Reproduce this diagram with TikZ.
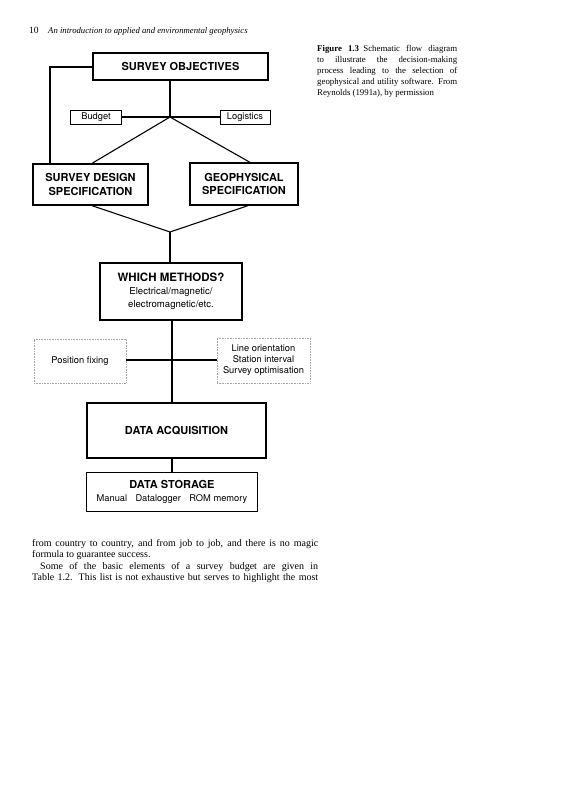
\documentclass[tikz,border=0pt]{standalone}
\usepackage{fontspec}
\setmainfont{Liberation Serif}
\setsansfont{TeX Gyre Heros}
\usepackage{tikz}

\begin{document}
\begin{tikzpicture}[
    x=1pt,y=-1pt,
    bigbox/.style={draw,line width=1.3pt,inner sep=0pt,align=center,font=\sffamily\bfseries\fontsize{11}{13.5}\selectfont},
    smallbox/.style={draw,line width=0.7pt,inner sep=0pt,align=center,font=\sffamily\fontsize{9.3}{11}\selectfont},
    dotbox/.style={draw=gray!70,densely dotted,line width=0.6pt,inner sep=0pt,align=center,font=\sffamily\fontsize{9.3}{11}\selectfont},
    link/.style={line width=1.1pt}
    ]
    \useasboundingbox (0,0) rectangle (564,800);
    % page header and caption
    \node[anchor=base west,inner sep=0pt,font=\fontsize{9.5}{11}\selectfont] (pageno) at (29,34) {10};
    \node[anchor=base west,inner sep=0pt,font=\itshape\fontsize{8.7}{11}\selectfont] (header) at (48,34) {An introduction to applied and environmental geophysics};
    \node[anchor=north west,inner sep=0pt,text width=140pt,align=justify,font=\fontsize{8.8}{11}\selectfont] (caption) at (317,45)
      {\textbf{Figure 1.3}\enspace Schematic flow diagram\linebreak to illustrate the decision-making\linebreak process leading to the selection of\linebreak geophysical and utility software. From\linebreak Reynolds (1991a), by permission};
    % flow diagram
    \node[bigbox,minimum width=175pt,minimum height=27pt] (obj) at (180.5,66.5) {SURVEY OBJECTIVES};
    \node[smallbox,minimum width=51pt,minimum height=14pt] (budget) at (96,117) {Budget};
    \node[smallbox,minimum width=50pt,minimum height=14pt] (logist) at (245,117) {Logistics};
    \node[bigbox,minimum width=115pt,minimum height=41pt] (design) at (90.5,184.5) {SURVEY DESIGN\\SPECIFICATION};
    \node[bigbox,minimum width=108pt,minimum height=42pt] (geoph) at (244,184) {GEOPHYSICAL\\SPECIFICATION};
    \node[bigbox,minimum width=142pt,minimum height=57pt] (methods) at (171,291.5)
      {\fontsize{11.5}{13}\selectfont WHICH METHODS?\\[-1pt]\mdseries\fontsize{9.6}{10.5}\selectfont Electrical/magnetic/\\\mdseries\fontsize{9.6}{10.5}\selectfont electromagnetic/etc.};
    \node[dotbox,minimum width=92pt,minimum height=44pt] (posfix) at (80,361) {Position fixing};
    \node[dotbox,minimum width=93pt,minimum height=45pt] (lineor) at (263.5,360.5) {Line orientation\\Station interval\\Survey optimisation};
    \node[bigbox,minimum width=179pt,minimum height=55pt] (acq) at (176.5,430.5) {DATA ACQUISITION};
    \node[bigbox,minimum width=171pt,minimum height=39pt] (store) at (172,492)
      {DATA STORAGE\\[-1pt]\mdseries\fontsize{9.3}{11}\selectfont Manual\hspace{0.9em}Datalogger\hspace{0.9em}ROM memory};
    \coordinate (j1) at (170,117);
    \coordinate (j2) at (170,232);
    \coordinate (loop) at (50,67);
    \draw[link] (obj.west |- loop) -- (loop) -- (loop |- design.north);
    \draw[link] (obj.south -| j1) -- (j1);
    \draw[link] (budget) -- (logist);
    \draw[link] (j1) -- ([xshift=1.5pt]design.north);
    \draw[link] (j1) -- ([xshift=6pt]geoph.north);
    \draw[link] ([xshift=1.5pt]design.south) -- (j2);
    \draw[link] ([xshift=4pt]geoph.south) -- (j2);
    \draw[link] (j2) -- (j2 |- methods.north);
    \draw[link] ([xshift=1pt]methods.south) -- ([xshift=1pt]methods.south |- acq.north);
    \draw[link,line width=1.4pt] ([yshift=1pt]posfix.east) -- ([yshift=1pt]posfix.east -| lineor.west);
    \draw[link] (store.north |- acq.south) -- (store.north);
    % running text
    \node[anchor=north west,inner sep=0pt,text width=286pt,align=justify,font=\fontsize{10}{11.4}\selectfont] (body) at (32,539)
      {from country to country, and from job to job, and there is no magic\linebreak formula to guarantee success.\par
       \hspace*{8pt}Some of the basic elements of a survey budget are given in\linebreak Table 1.2. This list is not exhaustive but serves to highlight the most\parfillskip=0pt\par};
\end{tikzpicture}
\end{document}
